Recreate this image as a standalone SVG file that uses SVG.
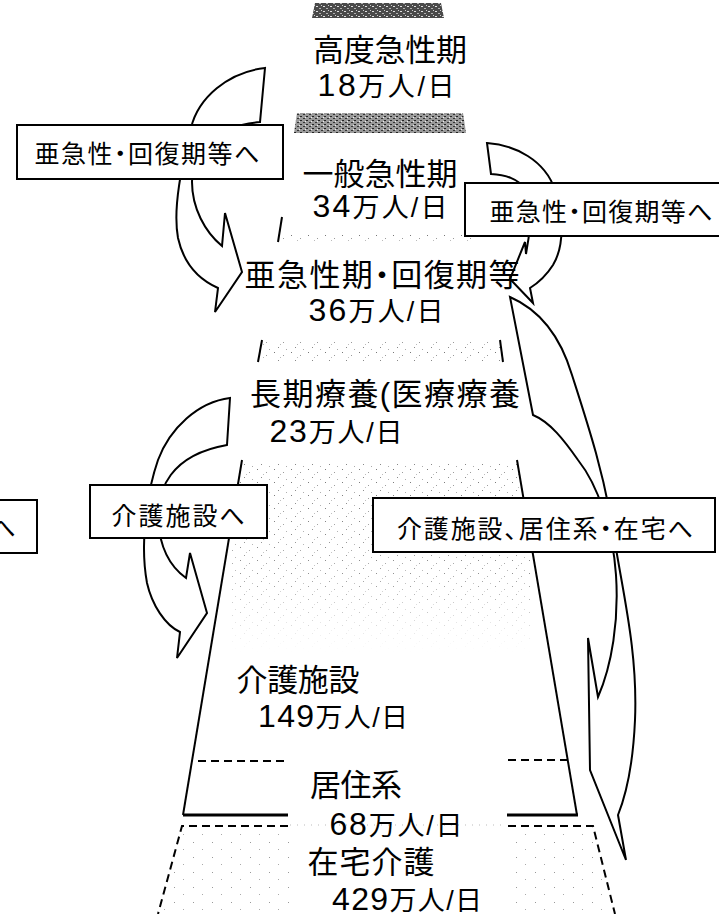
<svg xmlns="http://www.w3.org/2000/svg" width="719" height="914" viewBox="0 0 719 914">
<defs>
<style>
.t{font-family:"Liberation Sans","Noto Sans CJK JP",sans-serif;fill:#000;text-anchor:middle}
.L{font-size:31px}
.n{font-size:27px}
.d{font-size:32px}
.b{font-size:25px}
.p{font-feature-settings:"palt"}
.box{fill:#fff;stroke:#000;stroke-width:2}
.arr{fill:#fff;stroke:#000;stroke-width:2;stroke-linejoin:miter}
.edge{fill:none;stroke:#000;stroke-width:2}
.dash{fill:none;stroke:#000;stroke-width:2;stroke-dasharray:8 5}
</style>
<pattern id="pd" width="7" height="5" patternUnits="userSpaceOnUse">
<rect width="7" height="5" fill="#4a4a4a"/>
<rect x="1" y="1" width="2" height="1" fill="#e0e0e0"/>
<rect x="4" y="3" width="2" height="1" fill="#b0b0b0"/>
<rect x="6" y="0" width="1" height="1" fill="#cfcfcf"/>
</pattern>
<pattern id="pm" width="6" height="4" patternUnits="userSpaceOnUse">
<rect width="6" height="4" fill="#9a9a9a"/>
<rect x="0" y="0" width="2" height="1" fill="#222"/>
<rect x="3" y="2" width="2" height="1" fill="#333"/>
<rect x="5" y="1" width="1" height="1" fill="#eee"/>
</pattern>
<pattern id="pl" width="17" height="13" patternUnits="userSpaceOnUse">
<rect x="2" y="1" width="1" height="1" fill="#777"/>
<rect x="11" y="4" width="1" height="1" fill="#999"/>
<rect x="6" y="9" width="1" height="1" fill="#888"/>
<rect x="14" y="11" width="1" height="1" fill="#aaa"/>
<rect x="8" y="6" width="1" height="1" fill="#bbb"/>
</pattern>
<pattern id="pl2" width="19" height="15" patternUnits="userSpaceOnUse">
<rect x="3" y="2" width="1" height="1" fill="#999"/>
<rect x="12" y="9" width="1" height="1" fill="#aaa"/>
</pattern>
<linearGradient id="fade" x1="0" y1="0" x2="0" y2="1">
<stop offset="0" stop-color="#fff" stop-opacity="1"/>
<stop offset="0.6" stop-color="#fff" stop-opacity="0.8"/>
<stop offset="1" stop-color="#fff" stop-opacity="0"/>
</linearGradient>
<mask id="mfade"><rect x="230" y="462" width="300" height="190" fill="url(#fade)"/></mask>
</defs>

<g id="textures">
<polygon points="315,3 441,3 444,18 312,18" fill="url(#pd)"/>
<polygon points="297,113 463,113 466,133 294,133" fill="url(#pm)"/>
<rect x="282" y="233" width="198" height="10" fill="url(#pl)"/>
<rect x="262" y="340" width="238" height="22" fill="url(#pl)"/>
<polygon points="242,462 517,462 548,652 212,652" fill="url(#pl)" mask="url(#mfade)"/>
<polygon points="184,830 290,830 290,914 160,914" fill="url(#pl2)"/>
<polygon points="508,830 592,830 614,914 508,914" fill="url(#pl2)"/>
</g>

<g id="pyramid-lines">
<line class="edge" x1="282" y1="217" x2="278" y2="242"/>
<line class="edge" x1="262" y1="340" x2="258" y2="362"/>
<line class="edge" x1="500" y1="340" x2="503" y2="362"/>
<polyline class="edge" points="242,460 183,815"/>
<polyline class="edge" points="517,460 577,815"/>
<line x1="183" y1="815" x2="288" y2="815" stroke="#000" stroke-width="3"/>
<line x1="507" y1="815" x2="578" y2="815" stroke="#000" stroke-width="3"/>
<line class="dash" x1="198" y1="761" x2="288" y2="761"/>
<line class="dash" x1="508" y1="760" x2="570" y2="760"/>
<polyline class="dash" points="288,826 182,826 158,914"/>
<polyline class="dash" points="508,826 593,826 615,914"/>
<line x1="290" y1="825" x2="506" y2="825" stroke="#bbb" stroke-width="1" stroke-dasharray="1 6"/>
</g>

<g id="connectors">
<path id="arrow-a" class="arr" d="M265,68 C228,72 198,98 191,128 C184,158 172,205 178,238 C184,265 200,280 218,288 L215,312 L242,272 L225,213 L222,246 C205,232 192,208 192,182 C192,150 215,126 260,122 Z"/>
<path id="arrow-b" class="arr" d="M487,143 C515,145 545,160 555,190 C563,215 565,245 553,265 C546,276 538,283 530,288 L533,303 L510,279 L525,242 L526,254 C530,235 532,205 526,190 C518,178 505,175 491,174 Z"/>
<path id="arrow-c" class="arr" d="M510,297 C540,310 560,335 572,375 C588,425 603,470 613,530 C622,590 638,650 635,720 C633,765 626,795 618,815 L626,860 L590,770 L588,638 L598,697 C612,665 619,620 616,575 C613,530 598,485 578,460 C564,440 550,422 533,415 Z"/>
<path id="arrow-d" class="arr" d="M230,398 C198,402 170,428 158,460 C146,495 140,545 147,583 C152,605 165,625 180,632 L177,658 L207,613 L190,553 L186,578 C172,568 160,550 158,520 C157,490 170,455 227,445 Z"/>
</g>

<g id="box-1"><rect class="box" x="17" y="125" width="266" height="54"/><text class="t b p" x="147" y="163" textLength="225" lengthAdjust="spacing">亜急性・回復期等へ</text></g>
<g id="box-2"><rect class="box" x="465" y="183" width="262" height="53"/><text class="t b p" x="601" y="221" textLength="223" lengthAdjust="spacing">亜急性・回復期等へ</text></g>
<g id="box-3"><rect class="box" x="90" y="485" width="177" height="53"/><text class="t b" x="178" y="525" textLength="133" lengthAdjust="spacing">介護施設へ</text></g>
<g id="box-4"><rect class="box" x="-10" y="500" width="47" height="53"/><text class="t b" x="3" y="537">へ</text></g>
<g id="box-5"><rect class="box" x="373" y="498" width="342" height="54"/><text class="t b p" x="545" y="538" textLength="296" lengthAdjust="spacing">介護施設、居住系・在宅へ</text></g>

<g id="tier-1"><text class="t L" x="390" y="61" textLength="154" lengthAdjust="spacing">高度急性期</text><text class="t n" x="386" y="96" textLength="137" lengthAdjust="spacing"><tspan class="d">18</tspan>万人/日</text></g>
<g id="tier-2"><text class="t L" x="380" y="185" textLength="155" lengthAdjust="spacing">一般急性期</text><text class="t n" x="380" y="217" textLength="135" lengthAdjust="spacing"><tspan class="d">34</tspan>万人/日</text></g>
<g id="tier-3"><text class="t L p" x="382" y="286" textLength="275" lengthAdjust="spacing">亜急性期・回復期等</text><text class="t n" x="376" y="321" textLength="135" lengthAdjust="spacing"><tspan class="d">36</tspan>万人/日</text></g>
<g id="tier-4"><text class="t L" x="385" y="405" textLength="270" lengthAdjust="spacing">長期療養(医療療養</text><text class="t n" x="336" y="442" textLength="133" lengthAdjust="spacing"><tspan class="d">23</tspan>万人/日</text></g>
<g id="tier-5"><text class="t L" x="298" y="691" textLength="123" lengthAdjust="spacing">介護施設</text><text class="t n" x="333" y="727" textLength="150" lengthAdjust="spacing"><tspan class="d">149</tspan>万人/日</text></g>
<g id="tier-6"><text class="t L" x="356" y="796" textLength="92" lengthAdjust="spacing">居住系</text><text class="t n" x="396" y="835" textLength="133" lengthAdjust="spacing"><tspan class="d">68</tspan>万人/日</text></g>
<g id="tier-7"><text class="t L" x="371" y="873" textLength="127" lengthAdjust="spacing">在宅介護</text><text class="t n" x="407" y="910" textLength="150" lengthAdjust="spacing"><tspan class="d">429</tspan>万人/日</text></g>
</svg>
